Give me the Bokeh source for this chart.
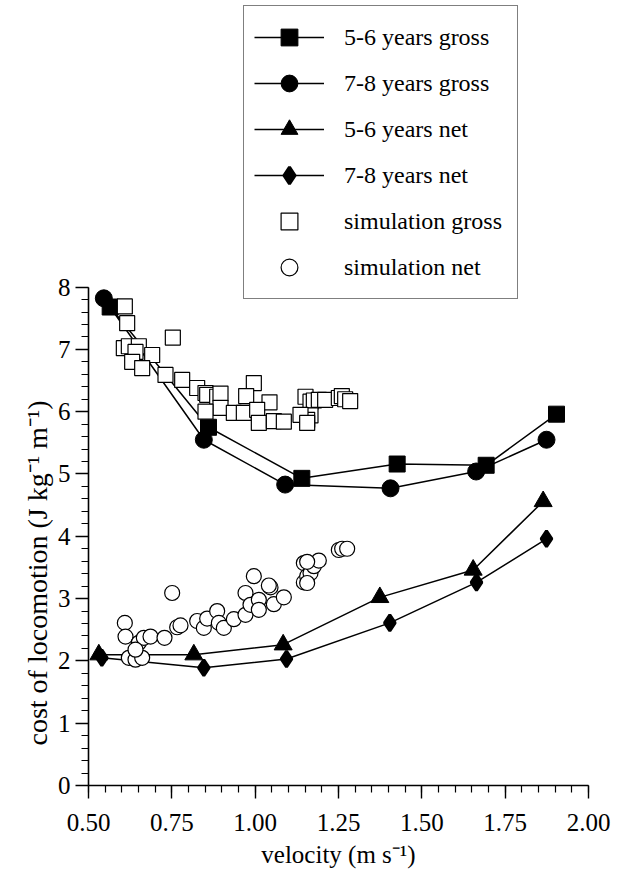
from bokeh.plotting import figure
from bokeh.models import (Range1d, SingleIntervalTicker, NumeralTickFormatter,
                          Legend, LegendItem, Title)
from bokeh.embed import file_html
from bokeh.resources import INLINE

# ---- data ----
g56_x = [0.565, 0.86, 1.14, 1.426, 1.693, 1.904]
g56_y = [7.68, 5.75, 4.93, 5.16, 5.14, 5.96]

g78_x = [0.546, 0.846, 1.09, 1.406, 1.663, 1.874]
g78_y = [7.82, 5.55, 4.83, 4.77, 5.04, 5.55]

n56_x = [0.531, 0.816, 1.084, 1.374, 1.654, 1.864]
n56_y = [2.10, 2.10, 2.26, 3.02, 3.46, 4.56]

n78_x = [0.54, 0.846, 1.094, 1.404, 1.664, 1.874]
n78_y = [2.05, 1.89, 2.03, 2.61, 3.26, 3.96]

simg_x = [0.609, 0.616, 0.753, 0.606, 0.621, 0.651, 0.641, 0.691, 0.631, 0.661,
          0.731, 0.781, 0.826, 0.851, 0.856, 0.886, 0.896, 0.896, 0.936, 0.966,
          0.996, 0.973, 1.043, 1.006, 1.011, 1.056, 1.086, 0.851, 1.151, 1.166,
          1.176, 1.191, 1.166, 1.156, 1.136, 1.156, 1.21, 1.251, 1.26, 1.27, 1.285]
simg_y = [7.69, 7.42, 7.19, 7.02, 7.05, 7.05, 6.96, 6.91, 6.80, 6.70,
          6.59, 6.51, 6.38, 6.30, 6.27, 6.24, 6.29, 6.06, 5.98, 5.98,
          6.46, 6.25, 6.15, 6.03, 5.82, 5.85, 5.84, 6.00, 6.24, 6.16,
          6.18, 6.19, 5.94, 5.87, 5.95, 5.82, 6.19, 6.22, 6.25, 6.20, 6.17]

simn_x = [0.609, 0.611, 0.751, 0.621, 0.641, 0.661, 0.651, 0.666, 0.686, 0.641,
          0.728, 0.766, 0.776, 0.826, 0.846, 0.856, 0.886, 0.891, 0.906, 0.936,
          0.971, 0.971, 0.996, 0.986, 1.011, 1.011, 1.046, 1.041, 1.056, 1.086,
          1.146, 1.146, 1.156, 1.166, 1.176, 1.191, 1.156, 1.251, 1.261, 1.276, 1.156]
simn_y = [2.61, 2.39, 3.09, 2.05, 2.02, 2.05, 2.29, 2.37, 2.39, 2.18,
          2.37, 2.54, 2.57, 2.64, 2.53, 2.68, 2.80, 2.61, 2.53, 2.67,
          2.74, 3.09, 3.36, 2.90, 2.98, 2.82, 3.18, 3.21, 2.91, 3.02,
          3.57, 3.26, 3.36, 3.41, 3.52, 3.61, 3.59, 3.78, 3.80, 3.80, 3.25]

labels = ["5-6 years gross", "7-8 years gross", "5-6 years net",
          "7-8 years net", "simulation gross", "simulation net"]
x_title = "velocity (m s\u207b\u00b9)"
y_title = "cost of locomotion (J kg\u207b\u00b9 m\u207b\u00b9)"

FONT = "'Liberation Serif', serif"

p = figure(width=620, height=870, output_backend="svg", toolbar_location=None,
           x_range=Range1d(0.5, 2.0), y_range=Range1d(0, 12.6),
           min_border_left=88, min_border_right=32,
           min_border_top=0, min_border_bottom=84)
p.outline_line_color = None
p.grid.visible = False
p.background_fill_color = "white"
p.border_fill_color = "white"

r_l1 = p.line(g56_x, g56_y, line_color="black", line_width=1.5)
r_l2 = p.line(g78_x, g78_y, line_color="black", line_width=1.5)
r_l3 = p.line(n56_x, n56_y, line_color="black", line_width=1.5)
r_l4 = p.line(n78_x, n78_y, line_color="black", line_width=1.5)

r_m1 = p.scatter(g56_x, g56_y, marker="square", size=16, fill_color="black", line_color="black")
r_m2 = p.scatter(g78_x, g78_y, marker="circle", size=17, fill_color="black", line_color="black")
r_m3 = p.scatter(n56_x, n56_y, marker="triangle", size=18, fill_color="black", line_color="black")
r_m4 = p.scatter(n78_x, n78_y, marker="diamond", size=16, fill_color="black",
                 line_color="black", line_width=3)

r_s1 = p.scatter(simg_x, simg_y, marker="square", size=15, fill_color="white",
                 line_color="black", line_width=1.2)
r_s2 = p.scatter(simn_x, simn_y, marker="circle", size=15, fill_color="white",
                 line_color="black", line_width=1.2)

for ax in (p.xaxis[0], p.yaxis[0]):
    ax.axis_line_width = 1.6
    ax.axis_line_color = "black"
    ax.major_tick_line_width = 1.4
    ax.minor_tick_line_width = 1.2
    ax.major_tick_out = 13
    ax.major_tick_in = 0
    ax.minor_tick_out = 7
    ax.minor_tick_in = 0
    ax.major_label_text_font = FONT
    ax.major_label_text_font_size = "25px"
    ax.major_label_text_color = "black"
    ax.axis_label_text_font = FONT
    ax.axis_label_text_font_size = "25px"
    ax.axis_label_text_font_style = "normal"
    ax.axis_label_text_color = "black"

p.xaxis[0].ticker = SingleIntervalTicker(interval=0.25, num_minor_ticks=5)
p.xaxis[0].formatter = NumeralTickFormatter(format="0.00")
p.xaxis[0].bounds = (0.5, 2.0)
p.xaxis[0].axis_label = x_title
p.xaxis[0].axis_label_standoff = 7
p.xaxis[0].major_label_standoff = 15

p.yaxis[0].ticker = SingleIntervalTicker(interval=1, num_minor_ticks=5)
p.yaxis[0].bounds = (0, 8)
p.yaxis[0].major_label_standoff = 5

ytitle = Title(text=y_title, align="left", offset=40, text_font=FONT,
               text_font_size="28px", text_font_style="normal", text_color="black",
               standoff=4)
p.add_layout(ytitle, "left")

legend = Legend(items=[
    LegendItem(label=labels[0], renderers=[r_l1, r_m1]),
    LegendItem(label=labels[1], renderers=[r_l2, r_m2]),
    LegendItem(label=labels[2], renderers=[r_l3, r_m3]),
    LegendItem(label=labels[3], renderers=[r_l4, r_m4]),
    LegendItem(label=labels[4], renderers=[r_s1]),
    LegendItem(label=labels[5], renderers=[r_s2]),
], location=(155, 486))
legend.border_line_color = "black"
legend.border_line_width = 1.5
legend.background_fill_color = "white"
legend.background_fill_alpha = 1.0
legend.label_text_font = FONT
legend.label_text_font_size = "24px"
legend.label_text_color = "black"
legend.glyph_width = 70
legend.glyph_height = 42
legend.label_height = 42
legend.spacing = 4
legend.padding = 10
legend.margin = 0
legend.label_standoff = 20
legend.label_width = 163
p.add_layout(legend, "center")

open("out.html", "w").write(file_html(p, INLINE))
